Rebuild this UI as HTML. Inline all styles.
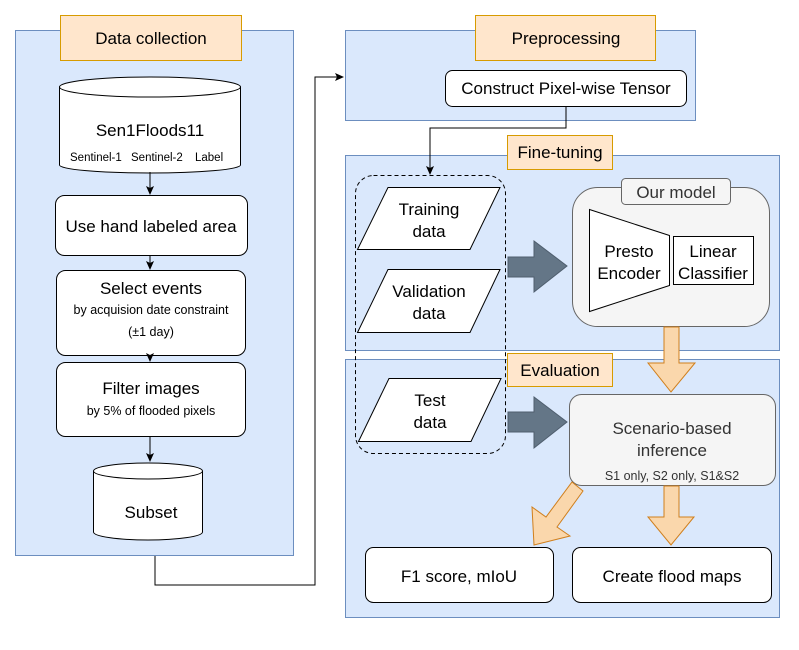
<!DOCTYPE html>
<html><head><meta charset="utf-8"><style>
body{margin:0;background:#fff}
text{font-family:"Liberation Sans",Arial,sans-serif;fill:#000}
</style></head><body>
<svg width="799" height="645" viewBox="0 0 799 645" xmlns="http://www.w3.org/2000/svg">
<defs><marker id="ar" markerWidth="10" markerHeight="10" refX="8" refY="5" orient="auto" markerUnits="userSpaceOnUse"><path d="M0,1 L9,5 L0,9 L2,5 Z" fill="#000"/></marker></defs>
<rect x="15.5" y="30.5" width="278" height="525" fill="#dae8fc" stroke="#6c8ebf"/>
<rect x="345.5" y="30.5" width="350" height="90" fill="#dae8fc" stroke="#6c8ebf"/>
<rect x="345.5" y="155.5" width="434" height="195" fill="#dae8fc" stroke="#6c8ebf"/>
<rect x="345.5" y="359.5" width="434" height="258" fill="#dae8fc" stroke="#6c8ebf"/>
<rect x="60.5" y="15.5" width="181" height="45" fill="#ffe6cc" stroke="#d79b00"/>
<text x="151" y="44" font-size="17" text-anchor="middle">Data collection</text>
<rect x="475.5" y="15.5" width="180" height="45" fill="#ffe6cc" stroke="#d79b00"/>
<text x="566" y="44" font-size="17" text-anchor="middle">Preprocessing</text>
<rect x="507.5" y="135.5" width="105" height="34" fill="#ffe6cc" stroke="#d79b00"/>
<text x="560" y="158" font-size="17" text-anchor="middle">Fine-tuning</text>
<rect x="507.5" y="353.5" width="105" height="33" fill="#ffe6cc" stroke="#d79b00"/>
<text x="560" y="376" font-size="17" text-anchor="middle">Evaluation</text>
<path d="M59.5,87 L59.5,165 A90.5,8 0 0 0 240.5,165 L240.5,87" fill="#fff" stroke="#000"/>
<ellipse cx="150" cy="87" rx="90.5" ry="10" fill="#fff" stroke="#000"/>
<text x="150" y="136" font-size="17" text-anchor="middle">Sen1Floods11</text>
<text x="70" y="161" font-size="11.5">Sentinel-1</text>
<text x="131" y="161" font-size="11.5">Sentinel-2</text>
<text x="195" y="161" font-size="11.5">Label</text>
<line x1="150" y1="172" x2="150" y2="194" stroke="#000" marker-end="url(#ar)"/>
<rect x="55.5" y="195.5" width="192" height="60" rx="9" fill="#fff" stroke="#000"/>
<text x="151" y="232" font-size="17" text-anchor="middle">Use hand labeled area</text>
<line x1="150" y1="256" x2="150" y2="269" stroke="#000" marker-end="url(#ar)"/>
<rect x="56.5" y="270.5" width="189" height="85" rx="9" fill="#fff" stroke="#000"/>
<text x="151" y="294" font-size="17" text-anchor="middle">Select events</text>
<text x="151" y="314" font-size="12.5" text-anchor="middle">by acquision date constraint</text>
<text x="151" y="336" font-size="12.5" text-anchor="middle">(±1 day)</text>
<line x1="150" y1="356" x2="150" y2="361" stroke="#000" marker-end="url(#ar)"/>
<rect x="56.5" y="362.5" width="189" height="74" rx="9" fill="#fff" stroke="#000"/>
<text x="151" y="394" font-size="17" text-anchor="middle">Filter images</text>
<text x="151" y="415" font-size="12.5" text-anchor="middle">by 5% of flooded pixels</text>
<line x1="150" y1="437" x2="150" y2="461" stroke="#000" marker-end="url(#ar)"/>
<path d="M93.5,471 L93.5,532 A54.5,8 0 0 0 202.5,532 L202.5,471" fill="#fff" stroke="#000"/>
<ellipse cx="148" cy="471" rx="54.5" ry="8" fill="#fff" stroke="#000"/>
<text x="151" y="518" font-size="17" text-anchor="middle">Subset</text>
<polyline points="155,556 155,585 315,585 315,77 343,77" fill="none" stroke="#000" marker-end="url(#ar)"/>
<rect x="445.5" y="70.5" width="241" height="36" rx="7" fill="#fff" stroke="#000"/>
<text x="566" y="94" font-size="17" text-anchor="middle">Construct Pixel-wise Tensor</text>
<polyline points="566,107 566,128 430,128 430,174" fill="none" stroke="#000" marker-end="url(#ar)"/>
<rect x="355.5" y="175.5" width="150" height="278" rx="18" fill="none" stroke="#000" stroke-dasharray="4 3"/>
<polygon points="388,187.5 500,187.5 470,249.5 357.5,249.5" fill="#fff" stroke="#000"/>
<text x="429" y="215" font-size="17" text-anchor="middle">Training</text>
<text x="429" y="237" font-size="17" text-anchor="middle">data</text>
<polygon points="388,269.5 500,269.5 470,332.5 357.5,332.5" fill="#fff" stroke="#000"/>
<text x="429" y="297" font-size="17" text-anchor="middle">Validation</text>
<text x="429" y="319" font-size="17" text-anchor="middle">data</text>
<polygon points="389,378.5 501,378.5 471,441.5 358.5,441.5" fill="#fff" stroke="#000"/>
<text x="430" y="406" font-size="17" text-anchor="middle">Test</text>
<text x="430" y="428" font-size="17" text-anchor="middle">data</text>
<polygon points="508,257 534,257 534,241 567,266 534,292 534,277 508,277" fill="#647687" stroke="#4f5e6e"/>
<polygon points="508,412 534,412 534,397 567,422 534,448 534,432 508,432" fill="#647687" stroke="#4f5e6e"/>
<rect x="572.5" y="187.5" width="197" height="139" rx="25" fill="#f5f5f5" stroke="#666"/>
<rect x="621.5" y="178.5" width="109" height="26" rx="4" fill="#f5f5f5" stroke="#666"/>
<text x="676" y="198" font-size="17" text-anchor="middle" style="fill:#333">Our model</text>
<polygon points="589.5,209.5 669.5,235.5 669.5,285.5 589.5,311.5" fill="#fff" stroke="#000"/>
<text x="629" y="257" font-size="17" text-anchor="middle">Presto</text>
<text x="629" y="279" font-size="17" text-anchor="middle">Encoder</text>
<rect x="673.5" y="236.5" width="80" height="48" fill="#fff" stroke="#000"/>
<text x="713" y="257" font-size="17" text-anchor="middle">Linear</text>
<text x="713" y="279" font-size="17" text-anchor="middle">Classifier</text>
<polygon points="664,327 679,327 679,363 695,363 671,392 648,363 664,363" fill="#fad7ac" stroke="#d07f1c"/>
<rect x="569.5" y="394.5" width="206" height="91" rx="12" fill="#f5f5f5" stroke="#666"/>
<text x="672" y="434" font-size="17" text-anchor="middle" style="fill:#333">Scenario-based</text>
<text x="672" y="456" font-size="17" text-anchor="middle" style="fill:#333">inference</text>
<text x="672" y="468" font-size="12.5" text-anchor="middle" style="fill:#333" dy="12">S1 only, S2 only, S1&amp;S2</text>
<polygon points="664,486 679,486 679,517 694,517 671,545 648,517 664,517" fill="#fad7ac" stroke="#d07f1c"/>
<polygon points="572,482 583,491 557,527 570,536 534,545 532,507 546,517" fill="#fad7ac" stroke="#d07f1c"/>
<rect x="365.5" y="547.5" width="188" height="55" rx="8" fill="#fff" stroke="#000"/>
<text x="459" y="582" font-size="17" text-anchor="middle">F1 score, mIoU</text>
<rect x="572.5" y="547.5" width="199" height="55" rx="8" fill="#fff" stroke="#000"/>
<text x="672" y="582" font-size="17" text-anchor="middle">Create flood maps</text>
</svg>
</body></html>
